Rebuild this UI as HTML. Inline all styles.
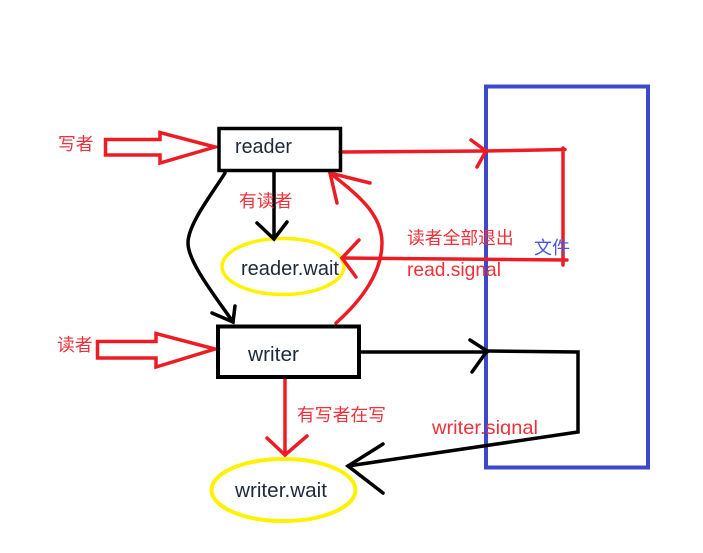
<!DOCTYPE html>
<html>
<head>
<meta charset="utf-8">
<style>
html,body{margin:0;padding:0;background:#fff;width:703px;height:553px;overflow:hidden}
svg{display:block;filter:blur(0.3px)}
text{font-family:"Liberation Sans","Noto Sans CJK SC",sans-serif}
.l{fill:#1d2a3a;font-size:20px}
.r{fill:#f0303a;font-size:17.8px}
.s{font-size:19.500px}
</style>
</head>
<body>
<svg width="703" height="553" viewBox="0 0 703 553" xmlns="http://www.w3.org/2000/svg">
<defs><clipPath id="c"><rect x="420" y="410" width="130" height="25"/></clipPath></defs>
<rect x="486" y="86.500" width="162" height="381" fill="none" stroke="#3f48cc" stroke-width="4"/>

<g fill="none" stroke-linecap="round" stroke-linejoin="miter">
<!-- red block arrows -->
<path d="M105.500 139.500H160V132.500L215 147L160 163V155H105.500Z" stroke="#ed1c24" stroke-width="3.500"/>
<path d="M97.500 341.500H156V333.500L215 349L156 367V358H97.500Z" stroke="#ed1c24" stroke-width="3.500"/>

<!-- ellipses -->
<ellipse cx="283" cy="266.500" rx="61" ry="28" stroke="#fff200" stroke-width="3.500"/>
<ellipse cx="283.500" cy="490" rx="72" ry="31" stroke="#fff200" stroke-width="4"/>

<!-- black connectors -->
<g stroke="#000" stroke-width="3.500">
<path d="M225 173C212 194 188 224 188 243C188 262 215 296 233 322"/>
<path d="M212 313L233 322L235 306"/>
<path d="M274 171V239M257 223L274 239L287 222"/>
<path d="M360 352H487M470 340L487 351L472 372"/>
<path d="M487 351L578 352V432L348 466"/>
<path d="M383 444L348 466L383 493"/>
</g>

<!-- red connectors -->
<g stroke="#ed1c24" stroke-width="3.500">
<path d="M336 323C362 300 382 272 382 243C382 214 358 195 330 173"/>
<path d="M370 183L330 173L337 203"/>
<path d="M342 258L567 260"/>
<path d="M359 240L342 258L356 277"/>
<path d="M340 152L486 151L565 149.500M563 148V265"/>
<path d="M471 140L486 151L477 167"/>
<path d="M285 378V455M267 438L285 455L307 436"/>
</g>
</g>

<rect x="219" y="128.500" width="121.500" height="42" fill="none" stroke="#000" stroke-width="3.500"/>
<rect x="218" y="326.500" width="141" height="50.500" fill="none" stroke="#000" stroke-width="4"/>

<text class="l" x="235" y="153" textLength="57" lengthAdjust="spacingAndGlyphs">reader</text>
<text class="l" x="241" y="275" textLength="98" lengthAdjust="spacingAndGlyphs">reader.wait</text>
<text class="l" x="248" y="361" textLength="51" lengthAdjust="spacingAndGlyphs">writer</text>
<text class="l" x="235" y="497" textLength="92" lengthAdjust="spacingAndGlyphs">writer.wait</text>

<text class="r" x="58" y="150">写者</text>
<text class="r" x="57" y="351">读者</text>
<text class="r" x="239" y="207">有读者</text>
<text class="r" x="407" y="244">读者全部退出</text>
<text class="r s" x="407" y="276" textLength="94" lengthAdjust="spacingAndGlyphs">read.signal</text>
<text class="r" x="297" y="421">有写者在写</text>
<text class="r s" x="432" y="434" textLength="106" lengthAdjust="spacingAndGlyphs" clip-path="url(#c)">writer.signal</text>
<text x="534" y="254" style="font-size:18px;fill:#4a56d8">文件</text>
</svg>
</body>
</html>
